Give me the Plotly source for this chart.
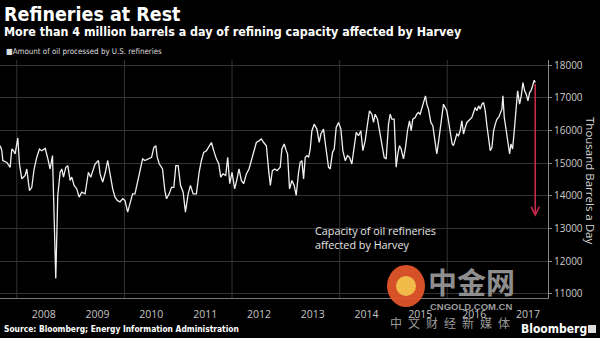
import numpy as np
import pandas as pd
import plotly.graph_objects as go

# ---- data (decimal year, thousand barrels a day) ----
year_frac = [
    2007.691, 2007.722, 2007.740, 2007.784, 2007.815, 2007.876, 2007.907, 2007.938, 2007.969,
    2008.019, 2008.049, 2008.093, 2008.155, 2008.185, 2008.235, 2008.278, 2008.321, 2008.371,
    2008.420, 2008.464, 2008.526, 2008.569, 2008.618, 2008.662, 2008.692, 2008.723, 2008.760,
    2008.804, 2008.835, 2008.866, 2008.909, 2008.946, 2008.989, 2009.020, 2009.063, 2009.113,
    2009.156, 2009.206, 2009.267, 2009.298, 2009.329, 2009.372, 2009.410, 2009.453, 2009.515,
    2009.546, 2009.595, 2009.645, 2009.688, 2009.731, 2009.781, 2009.824, 2009.867, 2009.917,
    2009.966, 2010.009, 2010.059, 2010.102, 2010.151, 2010.195, 2010.238, 2010.287, 2010.337,
    2010.380, 2010.442, 2010.504, 2010.547, 2010.584, 2010.609, 2010.646, 2010.708, 2010.751,
    2010.782, 2010.832, 2010.875, 2010.918, 2010.955, 2010.998, 2011.042, 2011.091, 2011.134,
    2011.184, 2011.227, 2011.277, 2011.338, 2011.388, 2011.431, 2011.474, 2011.524, 2011.573,
    2011.617, 2011.660, 2011.709, 2011.753, 2011.790, 2011.833, 2011.883, 2011.920, 2011.957,
    2012.000, 2012.049, 2012.093, 2012.130, 2012.173, 2012.216, 2012.266, 2012.315, 2012.359,
    2012.402, 2012.451, 2012.501, 2012.544, 2012.587, 2012.637, 2012.680, 2012.711, 2012.748,
    2012.791, 2012.835,
    2012.894, 2012.925, 2012.968, 2013.006, 2013.030, 2013.067, 2013.111, 2013.154, 2013.191,
    2013.235, 2013.266, 2013.297, 2013.328, 2013.359, 2013.390, 2013.421, 2013.452, 2013.483,
    2013.526, 2013.576, 2013.619, 2013.650, 2013.699, 2013.730, 2013.761, 2013.792, 2013.823,
    2013.867, 2013.898, 2013.935, 2013.978, 2014.022, 2014.059, 2014.102, 2014.146, 2014.183,
    2014.226, 2014.270, 2014.307, 2014.350, 2014.393, 2014.431, 2014.474, 2014.517, 2014.554,
    2014.598, 2014.629, 2014.660, 2014.703, 2014.740, 2014.784, 2014.827, 2014.864, 2014.908,
    2014.939, 2014.970, 2015.013, 2015.050, 2015.081, 2015.112, 2015.143, 2015.186, 2015.224,
    2015.261, 2015.298, 2015.329, 2015.360, 2015.403, 2015.434, 2015.465, 2015.496, 2015.527,
    2015.558, 2015.595, 2015.620, 2015.651, 2015.695, 2015.732, 2015.775, 2015.806, 2015.837,
    2015.868, 2015.899, 2015.930, 2015.961, 2015.992, 2016.023, 2016.054, 2016.091, 2016.116,
    2016.147, 2016.178, 2016.209, 2016.240, 2016.271, 2016.302, 2016.333, 2016.364, 2016.395,
    2016.426, 2016.457, 2016.488, 2016.519, 2016.550, 2016.581, 2016.612, 2016.643, 2016.674,
    2016.705, 2016.736, 2016.767, 2016.798, 2016.829, 2016.860, 2016.891, 2016.922, 2016.953,
    2016.983, 2017.014, 2017.033, 2017.058, 2017.095, 2017.126, 2017.157, 2017.182, 2017.213,
    2017.244, 2017.275, 2017.306, 2017.343, 2017.374, 2017.405, 2017.436, 2017.467, 2017.498,
    2017.529, 2017.553, 2017.584, 2017.615, 2017.634,
]

oil_processed = [
    15530, 15380, 15080, 15030, 15020, 14870, 15430, 15380, 15280,
    15770, 14980, 14520, 14620, 14820, 14160, 14260, 14820, 15180,
    15430, 15380, 15450, 15180, 14820, 15230, 13450, 11470, 14010,
    14720, 14820, 14570, 14870, 14920, 14470, 14570, 14320, 14210,
    13960, 14110, 14060, 14370, 14720, 14570, 14770, 14970, 15080,
    14670, 14420, 14720, 15080, 14670, 14210, 13960, 13860, 13810,
    13910, 13860, 13500, 13760, 14060, 14060, 14370, 14720, 15130,
    15080, 15130, 15180, 15480, 15530, 15180, 14980, 14820, 14160,
    13910, 14060, 14260, 14260, 14920, 14920, 14320, 14110, 13500,
    14060, 14320, 14060, 14060, 14720, 15080, 15330, 15380, 15530,
    15630, 15380, 15130, 14980, 14570, 14670, 14620, 15180, 14370,
    14720, 14210, 14520, 14820, 14470, 14370, 14670, 14820, 15080,
    15380, 15630, 15680, 15740, 15630, 15530, 14770, 14320, 14770,
    14820, 14770,
    14873, 15432, 15584, 15381, 15279, 14213, 14467, 14315, 14010,
    14721, 15025, 15076, 14518, 15178, 15228, 15178, 15432, 15990,
    16193, 16041, 15635, 15888, 16041, 15635, 15279, 14873, 14822,
    15330, 15432, 16091, 16244, 16041, 15381, 15076, 15228, 15178,
    14975, 15482, 15939, 15838, 15990, 15381, 15685, 16193, 16599,
    16497, 16244, 16497, 16345, 15990, 15533, 15178, 15127, 16193,
    16497, 16345, 16345, 14873, 15279, 15533, 15432, 15127, 15482,
    15990, 16294, 15990, 16345, 16396, 16497, 16548, 16497, 16700,
    16853, 17056, 16802, 16650, 16244, 16142, 15635, 15279, 15635,
    15990, 16396, 16802, 16700, 16599, 16294, 15990, 15584, 15533,
    15736, 15888, 15838, 15990, 16294, 15888, 16091, 16244, 16294,
    16345, 16396, 16548, 16700, 16599, 16751, 16650, 16802, 16853,
    16599, 16142, 15685, 15381, 15482, 15990, 16193, 16345, 16396,
    16548, 16650, 17056, 16396, 15990, 15685, 15279, 15584, 15432,
    15990, 16497, 17208, 16802, 17056, 17462, 17208, 17107, 16904,
    17157, 17208, 17360, 17533, 17462,
]

affected_by_harvey = 4100          # thousand barrels a day
y_ticks = [11000, 12000, 13000, 14000, 15000, 16000, 17000, 18000]
grid_years = [2008, 2010, 2012, 2014, 2016]

TITLE = "Refineries at Rest"
SUBTITLE = "More than 4 million barrels a day of refining capacity affected by Harvey"
LEGEND = "Amount of oil processed by U.S. refineries"
SOURCE = "Source: Bloomberg; Energy Information Administration"
NOTE = "Capacity of oil refineries<br>affected by Harvey"
Y_TITLE = "Thousand Barrels a Day"


def frac_to_date(f):
    y = int(np.floor(f))
    start = pd.Timestamp(year=y, month=1, day=1)
    end = pd.Timestamp(year=y + 1, month=1, day=1)
    return start + (end - start) * (f - y)


dates = [frac_to_date(f) for f in year_frac]

# ---- layout geometry (pixels) ----
W, H = 600, 338
ML, MR, MT, MB = 0, 52, 60, 40
PW, PH = W - ML - MR, H - MT - MB


def px(x):
    return (x - ML) / PW


def py(y):
    return (H - MB - y) / PH


NARROW = "Liberation Sans Narrow, DejaVu Sans Condensed, Roboto, sans-serif"
REG = "Open Sans, Roboto, sans-serif"
SP = "\u2002"

fig = go.Figure()
fig.add_trace(go.Scatter(
    x=dates, y=oil_processed, mode="lines",
    line=dict(color="#f0f0f0", width=1.3),
    name=LEGEND, showlegend=False, hoverinfo="skip",
))

for yr in grid_years:
    fig.add_shape(type="line", xref="x", yref="paper",
                  x0=f"{yr}-01-01", x1=f"{yr}-01-01", y0=0, y1=1,
                  line=dict(color="#333333", width=1), layer="below")

last_date, last_val = dates[-1], oil_processed[-1]
fig.add_annotation(x=last_date, y=last_val - affected_by_harvey,
                   ax=last_date, ay=last_val, xref="x", yref="y",
                   axref="x", ayref="y", text="", showarrow=True,
                   arrowhead=5, arrowsize=1, arrowwidth=1.6,
                   arrowcolor="#c8294b")

ann = [
    dict(text=f"<b>{TITLE}</b>", x=px(2), y=py(14), font=dict(family=NARROW, size=19.5, color="#ffffff")),
    dict(text=f"<b>{SUBTITLE}</b>", x=px(2), y=py(32), font=dict(family=NARROW, size=12.4, color="#ffffff")),
    dict(text="■" + LEGEND, x=px(4), y=py(52), font=dict(family=NARROW, size=7.9, color="#dddddd")),
    dict(text=NOTE, x=px(313), y=py(237), font=dict(family=REG, size=10.8, color="#e6e6e6"), align="left"),
    dict(text=f"<b>{SOURCE}</b>", x=px(2), y=py(329), font=dict(family=NARROW, size=8.4, color="#ffffff")),
]
for a in ann:
    fig.add_annotation(xref="paper", yref="paper", xanchor="left", yanchor="middle",
                       showarrow=False, **a)

fig.add_annotation(text=Y_TITLE, xref="paper", yref="paper", x=px(591), y=py(180),
                   xanchor="center", yanchor="middle", textangle=90, showarrow=False,
                   font=dict(family=REG, size=11.5, color="#d8d8d8"))

# watermark of the source image
fig.add_shape(type="circle", xref="paper", yref="paper",
              x0=px(387), x1=px(425), y0=py(307), y1=py(265),
              fillcolor="#e2552a", line=dict(width=0), opacity=0.95)
fig.add_shape(type="circle", xref="paper", yref="paper",
              x0=px(396), x1=px(416), y0=py(296), y1=py(276),
              fillcolor="#f2c14b", line=dict(width=0), opacity=0.95)
wm = [
    dict(text="<b>中金网</b>", x=px(471), y=py(281), font=dict(family="Noto Sans CJK SC", size=29, color="#8e8e8e")),
    dict(text="<b>CNGOLD.COM.CN</b>", x=px(471), y=py(306), font=dict(family="Liberation Sans", size=9.5, color="#9a9a9a")),
    dict(text=SP.join("中文财经新媒体"), x=px(450), y=py(322), font=dict(family="Noto Sans CJK SC", size=12, color="#9a9a9a")),
    dict(text="<b>Bloomberg</b>", x=px(554), y=py(329), font=dict(family=NARROW, size=12, color="#ffffff")),
]
for a in wm:
    fig.add_annotation(xref="paper", yref="paper", xanchor="center", yanchor="middle",
                       showarrow=False, **a)
fig.add_shape(type="rect", xref="paper", yref="paper",
              x0=px(588), x1=px(596), y0=py(333), y1=py(325),
              fillcolor="#dddddd", line=dict(width=0))

fig.update_layout(
    width=W, height=H, margin=dict(l=ML, r=MR, t=MT, b=MB),
    paper_bgcolor="#000000", plot_bgcolor="#000000",
    showlegend=False,
    xaxis=dict(
        type="date", range=["2007-09-09", "2017-11-15"],
        dtick="M12", tick0="2008-01-01", tickformat="%Y", ticklabelmode="period",
        ticks="", showgrid=False, zeroline=False,
        showline=True, linecolor="#777777", linewidth=1,
        tickfont=dict(family=REG, size=10.5, color="#c4c4c4"),
        ticklabelstandoff=6,
        minor=dict(dtick="M12", tick0="2008-01-01", ticks="outside", ticklen=28,
                   tickcolor="#7a7a7a", tickwidth=1, showgrid=False),
    ),
    yaxis=dict(
        side="right", range=[10875, 18153], tickvals=y_ticks, tickformat="d",
        showgrid=True, gridcolor="#333333", gridwidth=1, zeroline=False,
        showline=True, linecolor="#888888", linewidth=1,
        ticks="outside", ticklen=3, tickcolor="#888888",
        tickfont=dict(family=REG, size=10, color="#cccccc"),
    ),
)

fig.write_html("out.html")
